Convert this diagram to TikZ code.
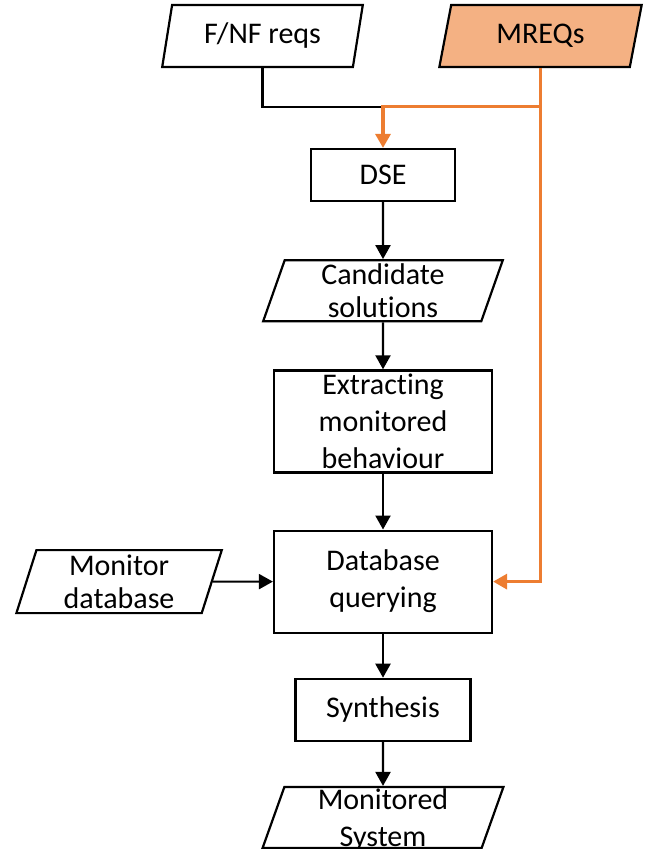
\documentclass[tikz,border=0pt]{standalone}
\usepackage{fontspec}
\setmainfont{Carlito}[Ligatures=NoCommon]
\usetikzlibrary{arrows.meta,positioning,shapes.geometric}
\definecolor{mreqline}{HTML}{ED7D31}
\definecolor{mreqfill}{HTML}{F4B183}

\begin{document}
\begin{tikzpicture}[x=0.5pt,y=-0.5pt,>={Triangle[length=7pt,width=7.5pt]},
  every node/.style={font=\fontsize{15}{18.5}\selectfont,inner sep=0pt,align=center},
  proc/.style={draw,line width=1.1pt,rectangle},
  data/.style={draw,line width=1.1pt,trapezium,trapezium left angle=76,trapezium right angle=104,trapezium stretches=true},
  flow/.style={->,line width=1.1pt},
  mflow/.style={->,line width=1.6pt,draw=mreqline}]
  \useasboundingbox (0,0) rectangle (644,849);

  % inputs
  \node[data,minimum width=100.5pt,minimum height=31pt] (fnf) at (262.5,36) {F/NF reqs};
  \node[data,fill=mreqfill,minimum width=101.5pt,minimum height=31pt] (mreq) at (540.5,36) {MREQs};

  % main chain
  \node[proc,minimum width=72pt,minimum height=26pt] (dse) at (383,175) {DSE};
  \coordinate[above=20.5pt of dse] (join);
  \node[data,font=\fontsize{15}{16.5}\selectfont,minimum width=120pt,minimum height=30.5pt,below=28.5pt of dse] (cand) {Candidate\\solutions};
  \node[proc,minimum width=109pt,minimum height=51pt,below=23.5pt of cand] (extr) {Extracting\\monitored\\behaviour};
  \node[proc,minimum width=109pt,minimum height=51pt,below=28pt of extr] (db) {Database\\querying};
  \node[data,font=\fontsize{15}{16.5}\selectfont,minimum width=103pt,minimum height=31.5pt,left=30pt of db] (mondb) {Monitor\\database};
  \node[proc,minimum width=87.5pt,minimum height=31pt,below=22pt of db] (syn) {Synthesis};
  \node[data,text depth=0pt,minimum width=121pt,minimum height=30.5pt,below=22pt of syn] (msys) {Monitored\\System};

  % connectors
  \draw[line width=1.1pt] (fnf.south) |- (join);
  \draw[mflow] (mreq.south) |- (join) -- (dse.north);
  \draw[mflow] (mreq.south) |- (db.east);
  \draw[flow] (dse) -- (cand);
  \draw[flow] (cand) -- (extr);
  \draw[flow] (extr) -- (db);
  \draw[flow] (mondb) -- (db);
  \draw[flow] (db) -- (syn);
  \draw[flow] (syn) -- (msys);
\end{tikzpicture}
\end{document}
